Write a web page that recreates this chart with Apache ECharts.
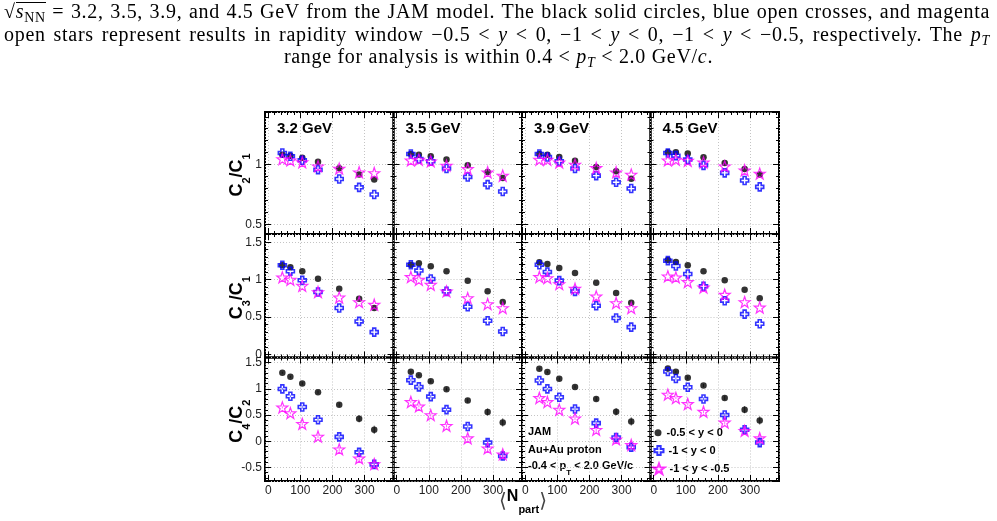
<!DOCTYPE html>
<html>
<head>
<meta charset="utf-8">
<script src="https://cdn.jsdelivr.net/npm/echarts@6/dist/echarts.min.js"></script>
<style>
body { margin: 0; background: #fff; }
#wrap { position: relative; width: 997px; height: 521px; overflow: hidden; }
#chart { position: absolute; left: 0; top: 0; width: 997px; height: 521px; }
#caption {
  position: absolute; left: 0; top: 0; width: 997px;
  font-family: 'Liberation Serif', 'DejaVu Serif', serif;
  font-size: 20px; letter-spacing: 0.7px; line-height: 22.5px; color: #000;
}
#caption .just { padding: 0 7px 0 4px; text-align: justify; text-align-last: justify; white-space: nowrap; }
#caption .center { text-align: center; white-space: nowrap; }
#caption sub { font-size: 0.7em; line-height: 0; vertical-align: -0.25em; }
#caption .ol { display: inline-block; border-top: 1px solid #000; line-height: 17px; }
</style>
</head>
<body>
<div id="wrap">
  <div id="chart"></div>
  <div id="caption">
    <div class="just">√<span class="ol"><i>s</i><sub>NN</sub></span> = 3.2, 3.5, 3.9, and 4.5 GeV from the JAM model. The black solid circles, blue open crosses, and magenta</div>
    <div class="just">open stars represent results in rapidity window −0.5 &lt; <i>y</i> &lt; 0, −1 &lt; <i>y</i> &lt; 0, −1 &lt; <i>y</i> &lt; −0.5, respectively. The <i>p<sub>T</sub></i></div>
    <div class="center">range for analysis is within 0.4 &lt; <i>p<sub>T</sub></i> &lt; 2.0 GeV/<i>c</i>.</div>
  </div>
</div>
<script>
const energies = ['3.2 GeV', '3.5 GeV', '3.9 GeV', '4.5 GeV']
const npart = [44, 69, 106, 155, 221, 283, 330]
const windows = ['-0.5 < y < 0', '-1 < y < 0', '-1 < y < -0.5']

// C2/C1, one list per energy
const c21_y05 = [
  [1.083, 1.075, 1.058, 1.025, 0.970, 0.917, 0.875],
  [1.089, 1.083, 1.069, 1.042, 0.994, 0.939, 0.889],
  [1.089, 1.083, 1.064, 1.033, 0.981, 0.944, 0.881],
  [1.103, 1.103, 1.092, 1.061, 1.014, 0.964, 0.917]
]
const c21_y10 = [
  [1.097, 1.070, 1.036, 0.958, 0.880, 0.810, 0.750],
  [1.089, 1.047, 1.028, 0.967, 0.897, 0.833, 0.775],
  [1.089, 1.064, 1.028, 0.967, 0.908, 0.853, 0.800],
  [1.097, 1.075, 1.042, 0.994, 0.931, 0.867, 0.814]
]
const c21_yfw = [
  [1.047, 1.036, 1.020, 0.986, 0.967, 0.936, 0.930],
  [1.036, 1.042, 1.028, 0.992, 0.964, 0.936, 0.908],
  [1.042, 1.042, 1.019, 1.000, 0.972, 0.936, 0.917],
  [1.036, 1.042, 1.033, 1.019, 0.986, 0.953, 0.925]
]
// C3/C1
const c31_y05 = [
  [1.192, 1.165, 1.112, 1.013, 0.879, 0.746, 0.621],
  [1.200, 1.219, 1.179, 1.112, 0.987, 0.844, 0.701],
  [1.232, 1.210, 1.156, 1.089, 0.960, 0.821, 0.692],
  [1.263, 1.237, 1.192, 1.112, 0.991, 0.866, 0.750]
]
const c31_y10 = [
  [1.192, 1.112, 0.991, 0.835, 0.621, 0.442, 0.299],
  [1.200, 1.121, 1.009, 0.844, 0.638, 0.451, 0.308],
  [1.200, 1.103, 0.987, 0.844, 0.652, 0.487, 0.366],
  [1.254, 1.183, 1.076, 0.911, 0.719, 0.540, 0.411]
]
const c31_yfw = [
  [1.031, 1.000, 0.920, 0.835, 0.763, 0.701, 0.665],
  [1.036, 1.000, 0.933, 0.844, 0.754, 0.674, 0.621],
  [1.036, 1.022, 0.942, 0.879, 0.777, 0.688, 0.621],
  [1.045, 1.031, 0.969, 0.897, 0.799, 0.701, 0.629]
]
// C4/C2
const c42_y05 = [
  [1.308, 1.231, 1.103, 0.936, 0.699, 0.429, 0.218],
  [1.327, 1.263, 1.147, 0.994, 0.776, 0.558, 0.359],
  [1.385, 1.321, 1.192, 1.038, 0.808, 0.564, 0.378],
  [1.391, 1.327, 1.212, 1.064, 0.827, 0.603, 0.397]
]
const c42_y10 = [
  [1.000, 0.859, 0.654, 0.410, 0.083, -0.212, -0.442],
  [1.167, 1.038, 0.853, 0.603, 0.282, -0.026, -0.282],
  [1.160, 1.000, 0.840, 0.615, 0.346, 0.071, -0.115],
  [1.333, 1.199, 1.032, 0.808, 0.500, 0.218, -0.026]
]
const c42_yfw = [
  [0.647, 0.538, 0.333, 0.090, -0.154, -0.327, -0.436],
  [0.750, 0.667, 0.500, 0.295, 0.058, -0.135, -0.250],
  [0.827, 0.750, 0.603, 0.436, 0.218, 0.038, -0.071],
  [0.891, 0.827, 0.712, 0.564, 0.359, 0.199, 0.058]
]
// rough C4/C2 error sizes (same for every energy)
const c42_err_y05 = [0.02, 0.02, 0.03, 0.03, 0.04, 0.07, 0.08]
const c42_err_y10 = [0.02, 0.02, 0.03, 0.03, 0.04, 0.07, 0.08]
const c42_err_yfw = [0.02, 0.02, 0.03, 0.03, 0.04, 0.06, 0.07]

const rows = [
  { name: ['2', '1'], sets: [c21_y05, c21_y10, c21_yfw], errs: null, min: 0.42, max: 1.44, split: 2 },
  { name: ['3', '1'], sets: [c31_y05, c31_y10, c31_yfw], errs: null, min: -0.04, max: 1.61, split: 3 },
  { name: ['4', '2'], sets: [c42_y05, c42_y10, c42_yfw], errs: [c42_err_y05, c42_err_y10, c42_err_yfw], min: -0.76, max: 1.60, split: 5 }
]

const colLeft = [265, 393.5, 522, 650.5]
const colWidth = 128.5
const rowTop = [112, 234, 357.5]
const rowHeight = [122, 123.5, 123.5]

const FONT = 'Liberation Sans, Arial, Helvetica, sans-serif'
const crossPath = 'path://M-1.1,-3L1.1,-3L1.1,-1.1L3,-1.1L3,1.1L1.1,1.1L1.1,3L-1.1,3L-1.1,1.1L-3,1.1L-3,-1.1L-1.1,-1.1Z'
const starPath = 'path://M0,-10L2.35,-3.24L9.51,-3.09L3.80,1.24L5.88,8.09L0,4L-5.88,8.09L-3.80,1.24L-9.51,-3.09L-2.35,-3.24Z'
const colors = ['#000000', '#0000ff', '#ff00ff']

const styles = [
  { symbol: 'circle', symbolSize: 6.5, itemStyle: { color: '#000' } },
  { symbol: crossPath, symbolSize: 8, itemStyle: { color: 'rgba(0,0,0,0)', borderColor: '#0000ff', borderWidth: 1.6 } },
  { symbol: starPath, symbolSize: 11, itemStyle: { color: 'rgba(0,0,0,0)', borderColor: '#ff00ff', borderWidth: 1.2 } }
]

const chart = echarts.init(document.getElementById('chart'))

const grid = []
const xAxis = []
const yAxis = []
const series = []
const graphic = []

const tickStyle = { color: '#000', width: 1 }
const splitStyle = { color: '#c4c4c4', type: [1, 2], width: 1 }

rows.forEach((row, r) => {
  energies.forEach((en, c) => {
    const g = grid.length
    grid.push({
      left: colLeft[c], top: rowTop[r], width: colWidth, height: rowHeight[r],
      show: true, borderColor: '#000', borderWidth: 2, backgroundColor: 'transparent'
    })
    const xBase = {
      gridIndex: g, type: 'value', min: -10, max: 390, splitNumber: 4,
      axisLine: { show: false, onZero: false },
      axisTick: { inside: true, length: 6, lineStyle: tickStyle },
      minorTick: { show: true, splitNumber: 5, length: 3, lineStyle: tickStyle }
    }
    xAxis.push(Object.assign({}, xBase, {
      position: 'bottom',
      splitLine: { show: true, lineStyle: splitStyle },
      axisLabel: {
        show: r === 2, margin: 4, color: '#222', fontSize: 12, fontFamily: FONT,
        formatter: v => (Math.abs(v % 100) < 1e-6 ? String(v) : '')
      }
    }))
    xAxis.push(Object.assign({}, xBase, {
      position: 'top', splitLine: { show: false }, axisLabel: { show: false }
    }))
    const yBase = {
      gridIndex: g, type: 'value', min: row.min, max: row.max, splitNumber: row.split,
      axisLine: { show: false, onZero: false },
      axisTick: { inside: true, length: 6, lineStyle: tickStyle },
      minorTick: { show: true, splitNumber: 5, length: 3, lineStyle: tickStyle }
    }
    yAxis.push(Object.assign({}, yBase, {
      position: 'left',
      splitLine: { show: true, lineStyle: splitStyle },
      axisLabel: {
        show: c === 0, margin: 3, color: '#222', fontSize: 12, fontFamily: FONT,
        formatter: v => {
          const k = Math.round(v * 2)
          return Math.abs(v * 2 - k) < 1e-6 ? String(k / 2) : ''
        }
      }
    }))
    yAxis.push(Object.assign({}, yBase, {
      position: 'right', splitLine: { show: false }, axisLabel: { show: false }
    }))
    row.sets.forEach((set, k) => {
      if (row.errs) {
        series.push({
          type: 'custom', xAxisIndex: g * 2, yAxisIndex: g * 2, z: 2,
          data: npart.map((x, i) => [x, set[c][i], row.errs[k][i]]),
          renderItem: (params, api) => {
            const x = api.value(0), y = api.value(1), e = api.value(2)
            const p1 = api.coord([x, y - e])
            const p2 = api.coord([x, y + e])
            return {
              type: 'line',
              shape: { x1: p1[0], y1: p1[1], x2: p2[0], y2: p2[1] },
              style: { stroke: colors[k], lineWidth: 1, opacity: 0.6 }
            }
          }
        })
      }
      series.push(Object.assign({
        type: 'scatter', name: windows[k],
        xAxisIndex: g * 2, yAxisIndex: g * 2,
        data: npart.map((x, i) => [x, set[c][i]]),
        z: 3 + k
      }, styles[k]))
    })
    if (r === 0) {
      graphic.push({
        type: 'text', left: colLeft[c] + 12, top: 121,
        style: { text: en, font: 'bold 15px ' + FONT, fill: '#000' }
      })
    }
  })
  // row y-axis title, rotated
  graphic.push({
    type: 'text', x: 240, y: rowTop[r] + rowHeight[r] / 2 + 2, rotation: Math.PI / 2,
    style: {
      text: '{c|C}{s|' + row.name[0] + '}{c|/C}{s|' + row.name[1] + '}',
      align: 'center', verticalAlign: 'middle',
      rich: {
        c: { font: 'bold 18px ' + FONT, fill: '#000', lineHeight: 24, verticalAlign: 'top' },
        s: { font: 'bold 11px ' + FONT, fill: '#000', lineHeight: 24, verticalAlign: 'bottom' }
      }
    }
  })
})

// x-axis title
graphic.push({
  type: 'text', x: 523, y: 502,
  style: {
    text: '{a|⟨}{n|N}{s|part}{a|⟩}', align: 'center', verticalAlign: 'middle',
    rich: {
      a: { font: '20px DejaVu Sans, sans-serif', fill: '#444', lineHeight: 26 },
      n: { font: 'bold 16px ' + FONT, fill: '#000', lineHeight: 20, verticalAlign: 'top' },
      s: { font: 'bold 11px ' + FONT, fill: '#000', lineHeight: 26, verticalAlign: 'bottom' }
    }
  }
})

// notes in the 3.9 GeV C4/C2 panel
const notes = ['JAM', 'Au+Au proton']
notes.forEach((t, i) => {
  graphic.push({
    type: 'text', x: 528, y: 432 + i * 18.3,
    style: { text: t, font: 'bold 11px ' + FONT, fill: '#000', verticalAlign: 'middle' }
  })
})
graphic.push({
  type: 'text', x: 528, y: 468.6,
  style: {
    text: '{t|-0.4 < p}{s|T}{t| < 2.0 GeV/c}', verticalAlign: 'middle',
    rich: {
      t: { font: 'bold 11px ' + FONT, fill: '#000', lineHeight: 16, verticalAlign: 'top' },
      s: { font: 'bold 8px ' + FONT, fill: '#000', lineHeight: 16, verticalAlign: 'bottom' }
    }
  }
})

// one legend block per window so each icon keeps its own size
const legendIcon = [7, 9, 11]
const legendRowY = [432.7, 450.6, 468.7]
const legend = windows.map((w, k) => ({
  left: 658 - legendIcon[k] / 2, top: legendRowY[k] - 7, orient: 'vertical',
  itemWidth: legendIcon[k], itemHeight: legendIcon[k], padding: 0,
  textStyle: { fontWeight: 'bold', fontSize: 11, fontFamily: FONT, color: '#000', lineHeight: 14 },
  data: [w]
}))

const option = {
  animation: false,
  grid,
  xAxis,
  yAxis,
  graphic,
  legend,
  series
}
chart.setOption(option)
</script>
</body>
</html>
